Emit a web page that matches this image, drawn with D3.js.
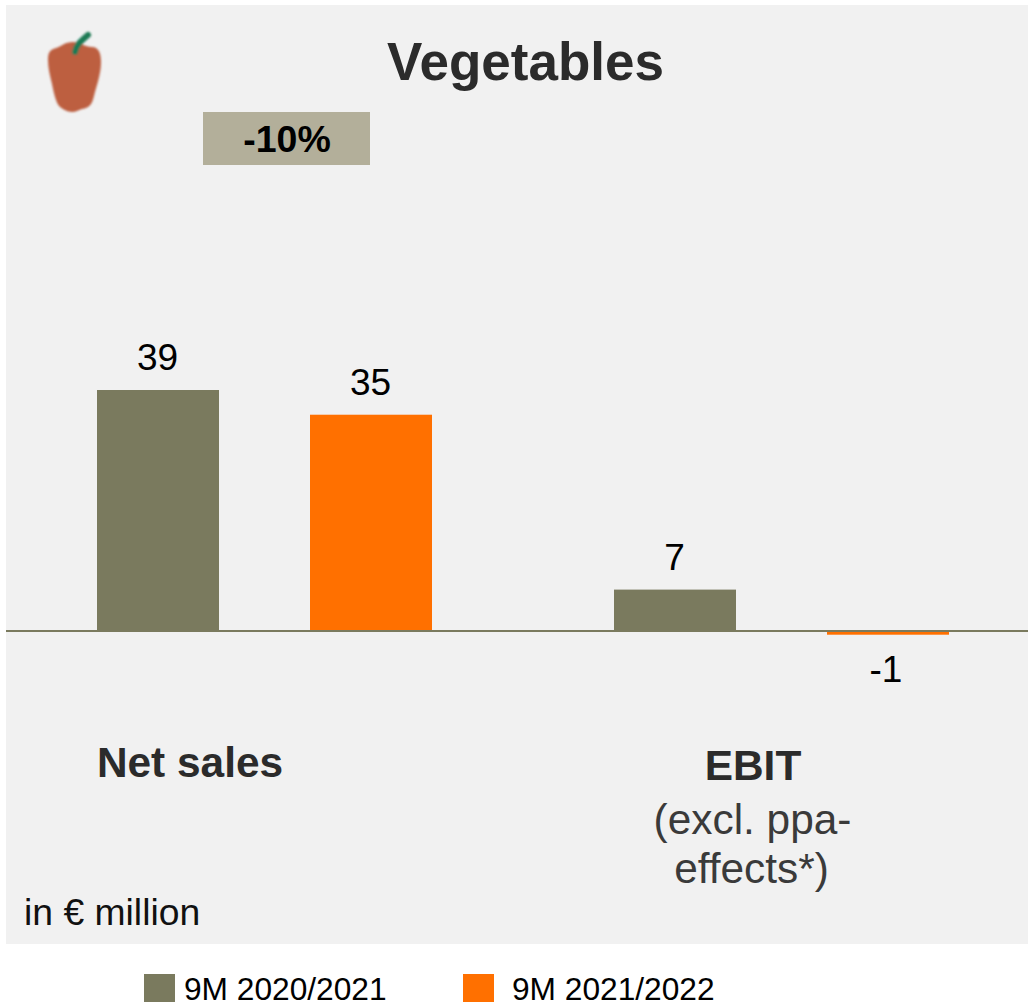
<!DOCTYPE html>
<html><head><meta charset="utf-8">
<style>html,body{margin:0;padding:0;background:#fff}svg{display:block}text{font-family:"Liberation Sans",Arial,sans-serif}</style>
<script src="https://cdn.jsdelivr.net/npm/d3@7/dist/d3.min.js"></script></head>
<body><script>
const categories = ["Net sales|2020", "Net sales|2021", "EBIT|2020", "EBIT|2021"];
const barValues = [39, 35, 6.7, -0.6];
const barLabels = ["39", "35", "7", "-1"];
const barSeries = [0, 1, 0, 1];
const seriesNames = ["9M 2020/2021", "9M 2021/2022"];
const seriesColors = ["#7a7a5e", "#ff7000"];

const W = 1028, H = 1002;
const svg = d3.select("body").append("svg").attr("width", W).attr("height", H);
svg.append("rect").attr("x", 6).attr("y", 5).attr("width", 1022).attr("height", 939).attr("fill", "#f1f1f1");

const y = d3.scaleLinear().domain([0, 39]).range([631, 390]);
const x = d3.scaleOrdinal().domain(categories).range([97, 310, 614, 827]);
const bw = 122;

svg.selectAll("rect.bar").data(categories).join("rect").attr("class", "bar")
  .attr("x", d => x(d)).attr("width", bw)
  .attr("y", (d, i) => Math.min(y(0), y(barValues[i])))
  .attr("height", (d, i) => Math.abs(y(barValues[i]) - y(0)))
  .attr("fill", (d, i) => seriesColors[barSeries[i]]);

svg.append("line").attr("x1", 6).attr("x2", 1028).attr("y1", 631).attr("y2", 631)
  .attr("stroke", "#7a7a5e").attr("stroke-width", 2);

svg.selectAll("text.val").data(categories).join("text").attr("class", "val")
  .attr("x", (d, i) => x(d) + bw / 2 - (barValues[i] < 0 ? 2 : 0.5))
  .attr("y", (d, i) => barValues[i] >= 0 ? y(barValues[i]) - 20 : 682)
  .attr("text-anchor", "middle").attr("font-size", 37).attr("fill", "#000")
  .text((d, i) => barLabels[i]);

function txt(s, px, py, size, opts = {}) {
  return svg.append("text").attr("x", px).attr("y", py).attr("font-size", size)
    .attr("font-weight", opts.bold ? "bold" : "normal")
    .attr("text-anchor", opts.anchor || "start").attr("fill", opts.fill || "#2b2b2b").text(s);
}
txt("Vegetables", 525.5, 80, 53, {bold: true, anchor: "middle"});
svg.append("rect").attr("x", 203).attr("y", 112).attr("width", 167).attr("height", 53).attr("fill", "#b3af9a");
txt("-10%", 287, 152, 37.5, {bold: true, anchor: "middle", fill: "#000"});
txt("Net sales", 190, 777, 42.4, {bold: true, anchor: "middle"});
txt("EBIT", 753, 780, 42.4, {bold: true, anchor: "middle"});
txt("(excl. ppa-", 752.5, 834, 42.4, {anchor: "middle", fill: "#3a3a3a"});
txt("effects*)", 751.5, 883, 42.4, {anchor: "middle", fill: "#3a3a3a"});
txt("in € million", 24, 925, 37.3, {fill: "#111"});

// legend
const legendX = [144, 463], legendTextX = [184, 512];
seriesNames.forEach((n, i) => {
  svg.append("rect").attr("x", legendX[i]).attr("y", 974).attr("width", 31).attr("height", 28).attr("fill", seriesColors[i]);
  txt(n, legendTextX[i], 1000, 31.7, {fill: "#000"});
});

// pepper icon
const defs = svg.append("defs");
defs.append("filter").attr("id", "soft").append("feGaussianBlur").attr("stdDeviation", 0.8);
const icon = svg.append("g").attr("filter", "url(#soft)");
icon.append("path").attr("fill", "#bd5f40")
  .attr("d", "M48,60 C48,52 50,50 56,48 C62,46 65,42 73,42 C80,42 85,47 92,47 C99,47 101,54 101,62 C101,74 97,84 94,96 C92,105 89,108 82,109 C78,110 76,112 72,112 C67,112 63,109 60,107 C56,103 54,94 52,84 C50,76 48,68 48,60 Z");
icon.append("path").attr("fill", "none").attr("stroke", "#1f7a55").attr("stroke-width", 6).attr("stroke-linecap", "round")
  .attr("d", "M75,52 C76,45 81,41 88,35");
</script></body></html>
